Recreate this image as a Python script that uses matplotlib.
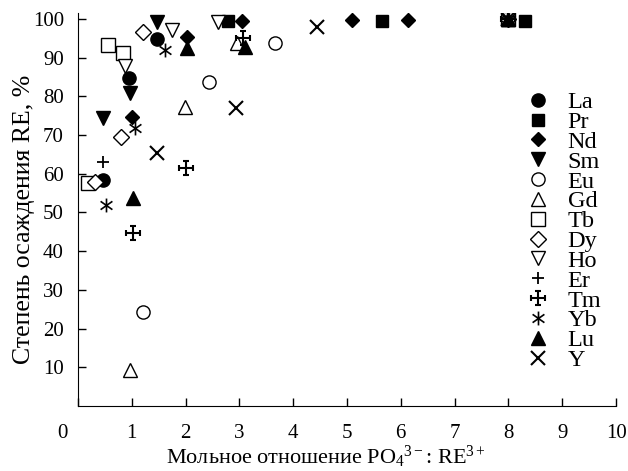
import matplotlib
matplotlib.use('Agg')
import matplotlib.pyplot as plt
import matplotlib.transforms as mtransforms
from matplotlib.path import Path

plt.rcParams['font.family'] = ['Liberation Serif', 'DejaVu Serif']
plt.rcParams['mathtext.fontset'] = 'custom'
plt.rcParams['mathtext.rm'] = 'Liberation Serif'
plt.rcParams['mathtext.it'] = 'Liberation Serif:italic'

#Data
la_x = [0.47, 0.95, 1.47, 8.0] ; la_y = [58.4, 84.7, 94.8, 100]
pr_x = [2.79, 5.65, 8.0, 8.31] ; pr_y = [99.6, 99.6, 100, 99.6]
nd_x = [1.0, 2.02, 3.05, 5.1, 6.13, 8.0] ; nd_y = [74.8, 95.4, 99.6, 99.8, 99.8, 100]
sm_x = [0.47, 0.97, 1.47, 8.0] ; sm_y = [74.3, 80.8, 99.3, 100]
eu_x = [1.21, 2.43, 3.66] ; eu_y = [24.3, 83.8, 93.9]
gd_x = [0.97, 1.99, 2.95, 8.0] ; gd_y = [9.3, 77.3, 93.7, 100]
tb_x = [0.19, 0.56, 0.84, 8.0] ; tb_y = [57.6, 93.3, 91.2, 100]
dy_x = [0.32, 0.8, 1.21, 8.0] ; dy_y = [57.8, 69.5, 96.6, 100]
ho_x = [0.87, 1.75, 2.6, 8.0] ; ho_y = [87.9, 97.2, 99.3, 100]
er_x = [0.47, 8.0] ; er_y = [63.1, 100]
tm_x = [1.02, 2.0, 3.07, 8.0] ; tm_y = [44.8, 61.6, 95.0, 100]
yb_x = [0.52, 1.06, 1.62, 8.0] ; yb_y = [51.9, 71.8, 92.0, 100]
lu_x = [1.02, 2.03, 3.1, 8.0] ; lu_y = [53.7, 92.5, 92.8, 100]
y_x = [1.47, 2.94, 4.44, 8.0] ; y_y = [65.3, 76.9, 98.0, 100]

#Custom markers: plus with end bars (Tm) and six-armed asterisk (Yb)
M, L = Path.MOVETO, Path.LINETO
tm_marker = Path([(-1, 0), (1, 0), (0, -1), (0, 1),
                  (-1, -0.4), (-1, 0.4), (1, -0.4), (1, 0.4),
                  (-0.4, 1), (0.4, 1), (-0.4, -1), (0.4, -1)],
                 [M, L] * 6)
yb_marker = Path([(0, -1), (0, 1), (-0.85, -0.6), (0.85, 0.6), (-0.85, 0.6), (0.85, -0.6)],
                 [M, L] * 3)

k = 'black'
series = [
    ('La', la_x, la_y, dict(marker='o', mfc=k, ms=9.5)),
    ('Pr', pr_x, pr_y, dict(marker='s', mfc=k, ms=8.5)),
    ('Nd', nd_x, nd_y, dict(marker='D', mfc=k, ms=7.5)),
    ('Sm', sm_x, sm_y, dict(marker='v', mfc=k, ms=10)),
    ('Eu', eu_x, eu_y, dict(marker='o', mfc='white', ms=9.5)),
    ('Gd', gd_x, gd_y, dict(marker='^', mfc='white', ms=10)),
    ('Tb', tb_x, tb_y, dict(marker='s', mfc='white', ms=9.5)),
    ('Dy', dy_x, dy_y, dict(marker='D', mfc='white', ms=8)),
    ('Ho', ho_x, ho_y, dict(marker='v', mfc='white', ms=10)),
    ('Er', er_x, er_y, dict(marker='+', ms=9, mew=1.3)),
    ('Tm', tm_x, tm_y, dict(marker=tm_marker, ms=10, mew=1.5)),
    ('Yb', yb_x, yb_y, dict(marker=yb_marker, ms=10, mew=1.2)),
    ('Lu', lu_x, lu_y, dict(marker='^', mfc=k, ms=10)),
    ('Y', y_x, y_y, dict(marker='x', ms=10, mew=1.5)),
]

fig, ax = plt.subplots(figsize=(6.28, 4.71), dpi=100)
fig.subplots_adjust(left=0.124, right=0.981, bottom=0.138, top=0.972)

for name, xs, ys, st in series:
    st.setdefault('mew', 1.0)
    ax.plot(xs, ys, linestyle='none', color=k, mec=k, label=name, **st)

ax.set_xlim(0, 10)
ax.set_ylim(0, 101.5)
ax.set_xticks(range(0, 11))
ax.set_yticks(range(10, 101, 10))
ax.spines['top'].set_visible(False)
ax.spines['right'].set_visible(False)
ax.tick_params(direction='in', length=6, width=1, labelsize=15)
ax.tick_params(axis='x', pad=13)
ax.tick_params(axis='y', pad=10)

#The "0" at the origin sits a bit left of the axis
t0 = ax.xaxis.get_major_ticks()[0].label1
t0.set_transform(t0.get_transform() + mtransforms.ScaledTranslation(-0.15, 0, fig.dpi_scale_trans))

ax.set_xlabel('Мольное отношение PO$_4$$^{3\u2212}$: RE$^{3+}$', fontsize=16)
ax.xaxis.set_label_coords(0.461, -0.097)
ax.set_ylabel('Степень осаждения RE, %', fontsize=18.5)
ax.yaxis.set_label_coords(-0.08, 0.475)

ax.legend(loc='upper left', bbox_to_anchor=(0.809, 0.832), frameon=False, fontsize=17.5,
          handlelength=1.0, handletextpad=0.74, labelspacing=-0.09, borderpad=0)

fig.savefig('out.png', dpi=100)
